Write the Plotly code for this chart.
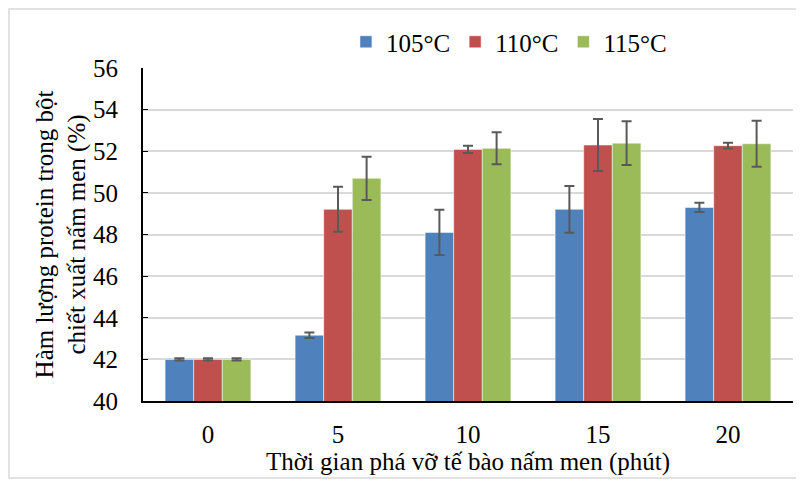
import plotly.graph_objects as go

categories = ["0", "5", "10", "15", "20"]
series_names = ["105°C", "110°C", "115°C"]
values_105 = [42.0, 43.16, 48.10, 49.21, 49.30]
values_110 = [42.0, 49.21, 52.09, 52.30, 52.27]
values_115 = [42.0, 50.70, 52.14, 52.39, 52.36]
err_105 = [0.05, 0.13, 1.09, 1.12, 0.22]
err_110 = [0.05, 1.08, 0.17, 1.25, 0.14]
err_115 = [0.05, 1.04, 0.77, 1.05, 1.10]
colors = ["#4F81BD", "#C0504D", "#9BBB59"]

FONT = "Liberation Serif, Times New Roman, serif"
FS = 25
fig = go.Figure()
for name, vals, errs, col in zip(series_names, [values_105, values_110, values_115],
                                  [err_105, err_110, err_115], colors):
    fig.add_trace(go.Bar(
        x=categories, y=vals, name=name,
        marker=dict(color=col, line=dict(color="rgba(255,255,255,0.5)", width=1)),
        error_y=dict(type="data", array=errs, visible=True, color="#595959",
                     thickness=2, width=5),
    ))

# page body has an 8px default margin; figure is sized so it ends at the window edge
fig.update_layout(
    width=796, height=474,
    margin=dict(l=135, r=11, t=60, b=81, autoexpand=False),
    paper_bgcolor="white", plot_bgcolor="white",
    font=dict(family=FONT, size=FS, color="black"),
    barmode="group", bargap=0.34, bargroupgap=0,
    legend=dict(orientation="h", x=0.563, y=1.078, xanchor="center", yanchor="middle",
                font=dict(family=FONT, size=FS), itemwidth=30, traceorder="normal"),
    xaxis=dict(
        showline=True, linecolor="black", linewidth=2,
        ticks="", ticklabelstandoff=10,
        title=dict(text="Thời gian phá vỡ tế bào nấm men (phút)", standoff=0,
                   font=dict(family=FONT, size=FS)),
        tickfont=dict(family=FONT, size=FS),
    ),
    yaxis=dict(
        range=[40, 56], dtick=2, tick0=40,
        showline=True, linecolor="black", linewidth=2,
        ticks="inside", ticklen=5, tickcolor="black", tickwidth=1,
        ticklabelstandoff=18,
        showgrid=True, gridcolor="#D9D9D9", gridwidth=1.5,
        zeroline=False,
        tickfont=dict(family=FONT, size=FS),
        title=dict(text="Hàm lượng protein trong bột<br>chiết xuất nấm men (%)", standoff=0,
                   font=dict(family=FONT, size=FS)),
    ),
    shapes=[dict(type="rect", xref="paper", yref="paper",
                 x0=(9 - 143) / 650, x1=(799 - 143) / 650,
                 y0=(401 - 478) / 333, y1=(401 - 9) / 333,
                 line=dict(color="#D9D9D9", width=1.5), fillcolor="rgba(0,0,0,0)", layer="below")],
)

fig.write_html("out.html")
